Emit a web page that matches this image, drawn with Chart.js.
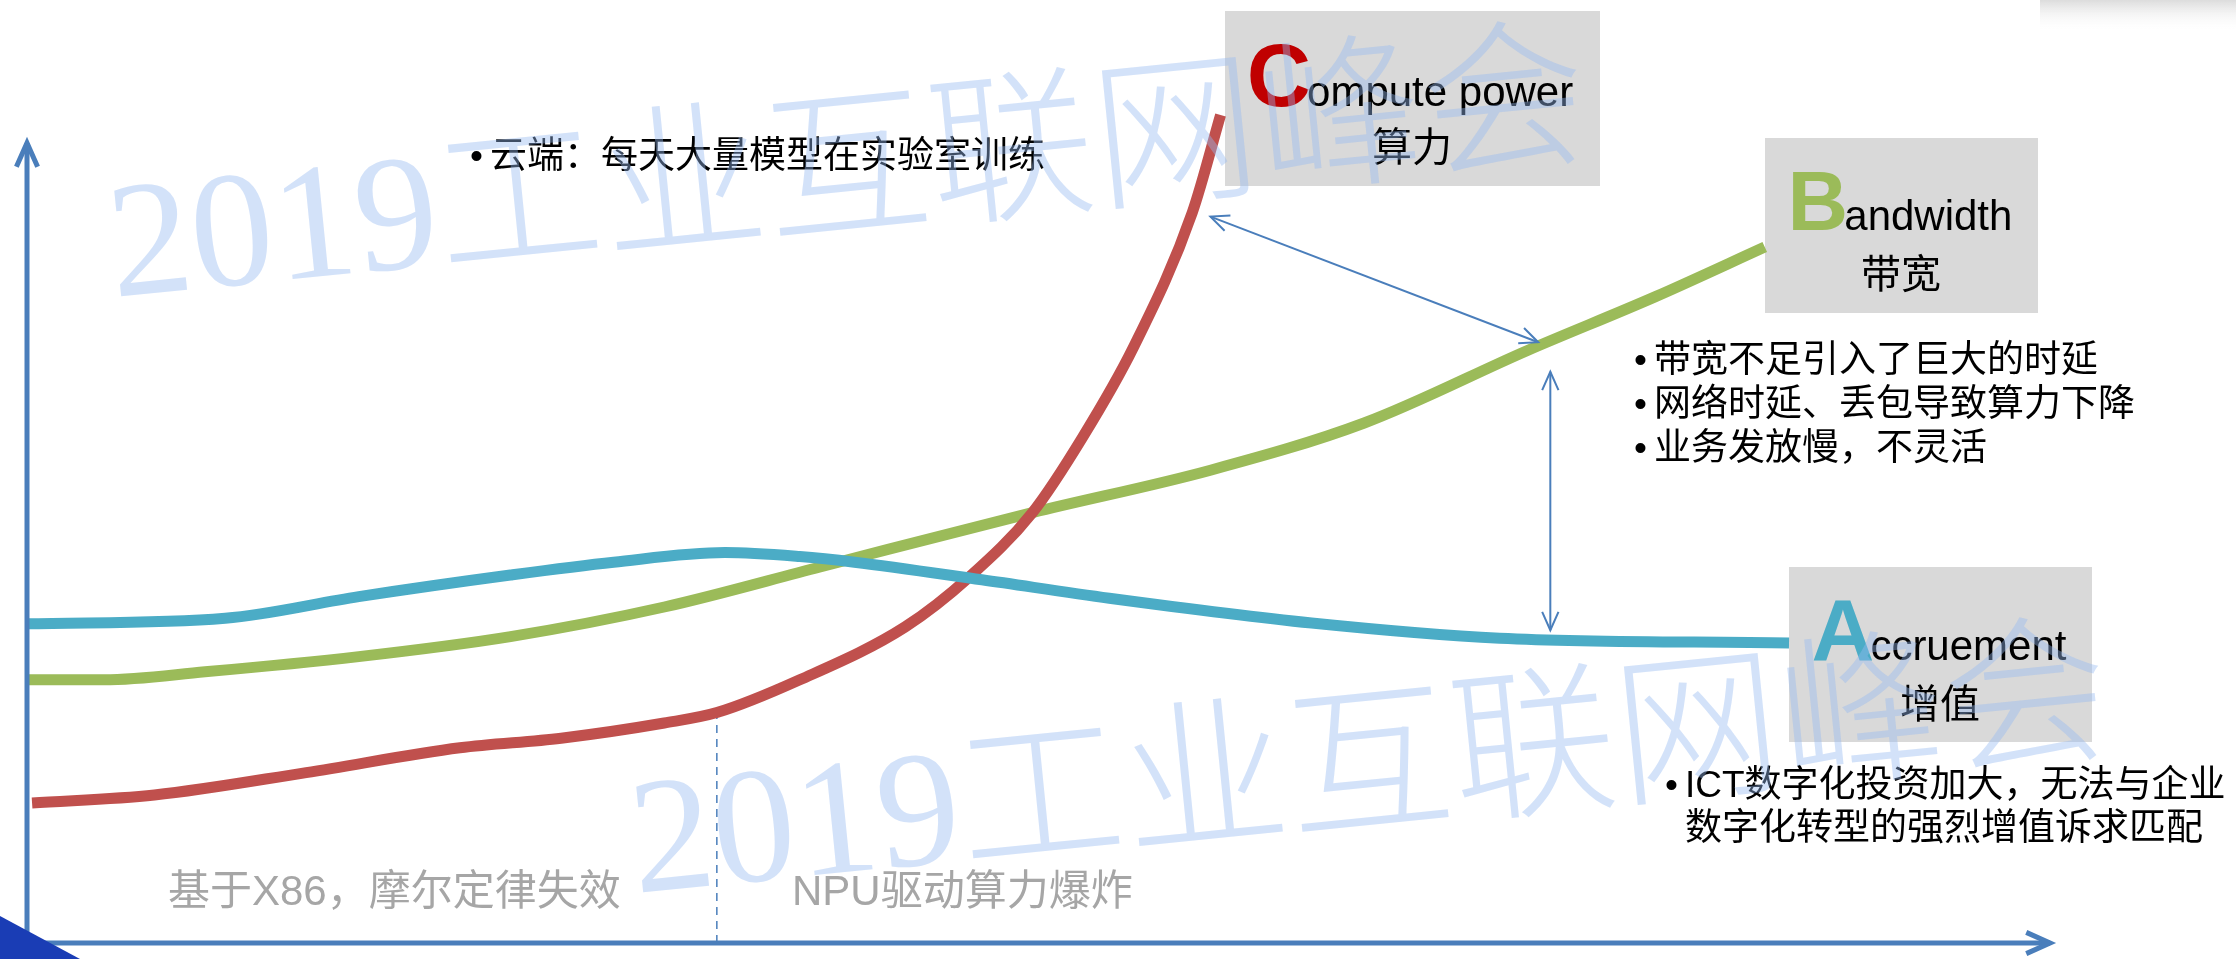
<!DOCTYPE html>
<html>
<head>
<meta charset="utf-8">
<script src="https://cdn.jsdelivr.net/npm/chart.js@4.4.1/dist/chart.umd.min.js"></script>
<style>
  html, body { margin: 0; padding: 0; background: #fff; }
  canvas { display: block; }
</style>
</head>
<body>
<canvas id="chart" width="2236" height="959"></canvas>
<script>
// curves, x = time, y = relative level (0-100)
const computeX = [0.25, 6.3, 13.8, 21.4, 26.4, 31.5, 34.1, 38.2, 43.4, 46.6, 49.7, 52.2, 54.7, 57.6, 59.0]
const computeY = [17.5, 18.5, 21.3, 24.4, 25.6, 27.5, 28.8, 32.9, 39.5, 45.8, 53.8, 63.3, 74.5, 91.3, 103.5]
const bandwidthX = [0, 3.8, 8.8, 16.4, 23.9, 31.5, 39.2, 49.7, 58.5, 66.1, 74.2, 80.5, 85.9]
const bandwidthY = [32.9, 32.9, 33.9, 35.8, 38.3, 42.0, 47.0, 53.8, 59.1, 65.0, 74.1, 80.8, 87.0]
const accruementX = [0, 9.8, 16.4, 23.9, 29.0, 34.5, 38.2, 40.9, 47.2, 53.5, 63.5, 72.8, 87.1]
const accruementY = [39.9, 40.6, 43.3, 46.0, 47.6, 48.8, 48.3, 47.6, 45.4, 43.1, 40.0, 38.1, 37.5]

// x86 era ends / NPU era starts
const stageSplit = 34.1
const stageLabels = ["基于X86，摩尔定律失效", "NPU驱动算力爆炸"]

// gap arrows between the curves (data units)
const gapArrows = [
  { from: [58.5, 90.8], to: [74.7, 75.1] },
  { from: [75.3, 71.4], to: [75.3, 39.1] }
]

const AXIS = "#4a7ebb"
const LATIN = '"Liberation Sans", "Noto Sans CJK SC", sans-serif'
const toPoints = (xs, ys) => xs.map((x, i) => ({ x, y: ys[i] }))

function arrowHead(ctx, x, y, angle, len) {
  const spread = 0.42
  ctx.beginPath()
  ctx.moveTo(x - len * Math.cos(angle - spread), y - len * Math.sin(angle - spread))
  ctx.lineTo(x, y)
  ctx.lineTo(x - len * Math.cos(angle + spread), y - len * Math.sin(angle + spread))
  ctx.stroke()
}

function boxTitle(ctx, cx, baseline, letter, rest, color, capSize) {
  ctx.textAlign = "left"
  ctx.textBaseline = "alphabetic"
  ctx.font = `bold ${capSize}px ${LATIN}`
  const w1 = ctx.measureText(letter).width
  ctx.font = `42px ${LATIN}`
  const w2 = ctx.measureText(rest).width
  const x0 = cx - (w1 + w2) / 2
  ctx.fillStyle = color
  ctx.font = `bold ${capSize}px ${LATIN}`
  ctx.fillText(letter, x0, baseline)
  ctx.fillStyle = "#000"
  ctx.font = `42px ${LATIN}`
  ctx.fillText(rest, x0 + w1 - 4, baseline)
}

function bullets(ctx, lines, x, y, step) {
  ctx.fillStyle = "#000"
  ctx.font = `37px ${LATIN}`
  ctx.textAlign = "left"
  ctx.textBaseline = "middle"
  lines.forEach((line, i) => {
    if (line.bullet) ctx.fillText("•", x, y + i * step)
    ctx.fillText(line.text, x + 20, y + i * step)
  })
}

const decorations = {
  id: "decorations",
  beforeDatasetsDraw(chart) {
    const ctx = chart.ctx
    ctx.save()
    // faint shadow top right
    const g = ctx.createLinearGradient(0, 0, 0, 32)
    g.addColorStop(0, "rgba(205,205,205,0.7)")
    g.addColorStop(1, "rgba(255,255,255,0)")
    ctx.fillStyle = g
    ctx.fillRect(2040, 0, 196, 32)
    // label boxes
    ctx.fillStyle = "#d9d9d9"
    ctx.fillRect(1225, 11, 375, 175)
    ctx.fillRect(1765, 138, 273, 175)
    ctx.fillRect(1789, 567, 303, 175)
    ctx.restore()
  },
  afterDatasetsDraw(chart) {
    const ctx = chart.ctx
    const { left, right, top, bottom } = chart.chartArea
    const xs = chart.scales.x, ys = chart.scales.y
    ctx.save()

    // axes with open arrow heads
    ctx.strokeStyle = AXIS
    ctx.lineWidth = 5
    ctx.lineJoin = "miter"
    ctx.beginPath()
    ctx.moveTo(left, top)
    ctx.lineTo(left, bottom)
    ctx.lineTo(right, bottom)
    ctx.stroke()
    arrowHead(ctx, right, bottom, 0, 26)
    arrowHead(ctx, left, top, -Math.PI / 2, 26)

    // thin double arrows
    ctx.lineWidth = 2
    gapArrows.forEach(a => {
      const x1 = xs.getPixelForValue(a.from[0]), y1 = ys.getPixelForValue(a.from[1])
      const x2 = xs.getPixelForValue(a.to[0]), y2 = ys.getPixelForValue(a.to[1])
      ctx.beginPath()
      ctx.moveTo(x1, y1)
      ctx.lineTo(x2, y2)
      ctx.stroke()
      const ang = Math.atan2(y2 - y1, x2 - x1)
      arrowHead(ctx, x2, y2, ang, 20)
      arrowHead(ctx, x1, y1, ang + Math.PI, 20)
    })

    // box titles
    boxTitle(ctx, 1412, 106, "C", "ompute power", "#c00000", 89)
    boxTitle(ctx, 1902, 230, "B", "andwidth", "#9bbb59", 84)
    boxTitle(ctx, 1941, 660, "A", "ccruement", "#4bacc6", 87)
    ctx.fillStyle = "#000"
    ctx.font = `40px ${LATIN}`
    ctx.textAlign = "center"
    ctx.textBaseline = "middle"
    ctx.fillText("算力", 1412, 150)
    ctx.fillText("带宽", 1901, 277)
    ctx.fillText("增值", 1940, 707)

    // notes
    bullets(ctx, [{ bullet: true, text: "云端：每天大量模型在实验室训练" }], 470, 158, 0)
    bullets(ctx, [
      { bullet: true, text: "带宽不足引入了巨大的时延" },
      { bullet: true, text: "网络时延、丢包导致算力下降" },
      { bullet: true, text: "业务发放慢，不灵活" }
    ], 1634, 362, 44)
    bullets(ctx, [
      { bullet: true, text: "ICT数字化投资加大，无法与企业" },
      { bullet: false, text: "数字化转型的强烈增值诉求匹配" }
    ], 1665, 787, 43)

    // stage labels
    ctx.fillStyle = "#a6a6a6"
    ctx.font = `42px ${LATIN}`
    ctx.textAlign = "left"
    ctx.textBaseline = "middle"
    ctx.fillText(stageLabels[0], 168, 893)
    ctx.fillText(stageLabels[1], 792, 893)

    // corner mark bottom left
    ctx.fillStyle = "#1a3db5"
    ctx.beginPath()
    ctx.moveTo(0, 916)
    ctx.lineTo(80, 959)
    ctx.lineTo(0, 959)
    ctx.closePath()
    ctx.fill()

    // watermark
    ctx.fillStyle = "rgba(150,185,240,0.42)"
    ctx.font = '300 165px "Liberation Serif", "Noto Sans CJK SC", serif'
    ctx.textAlign = "left"
    ctx.textBaseline = "alphabetic"
    ;[[114, 297], [636, 893]].forEach(([x, y]) => {
      ctx.save()
      ctx.translate(x, y)
      ctx.rotate(-5.7 * Math.PI / 180)
      ctx.fillText("2019工业互联网峰会", 0, 0)
      ctx.restore()
    })
    ctx.restore()
  }
}

const lineStyle = { borderWidth: 11, pointRadius: 0, cubicInterpolationMode: "monotone", clip: false, fill: false }

new Chart(document.getElementById("chart"), {
  type: "line",
  data: {
    datasets: [
      { label: "Accruement", data: toPoints(accruementX, accruementY), borderColor: "#4bacc6", ...lineStyle },
      { label: "Compute power", data: toPoints(computeX, computeY), borderColor: "#c0504d", ...lineStyle },
      { label: "Bandwidth", data: toPoints(bandwidthX, bandwidthY), borderColor: "#9bbb59", ...lineStyle },
      {
        label: "stage",
        data: [{ x: stageSplit, y: 0 }, { x: stageSplit, y: computeY[computeX.indexOf(stageSplit)] }],
        borderColor: AXIS, borderWidth: 1.5, borderDash: [8, 6], pointRadius: 0, clip: false
      }
    ]
  },
  options: {
    responsive: false,
    animation: false,
    events: [],
    layout: { padding: { left: 27, right: 186, top: 143, bottom: 16 } },
    scales: {
      x: { type: "linear", min: 0, max: 100, display: false },
      y: { type: "linear", min: 0, max: 100, display: false }
    },
    plugins: { legend: { display: false }, tooltip: { enabled: false } }
  },
  plugins: [decorations]
})
</script>
</body>
</html>
